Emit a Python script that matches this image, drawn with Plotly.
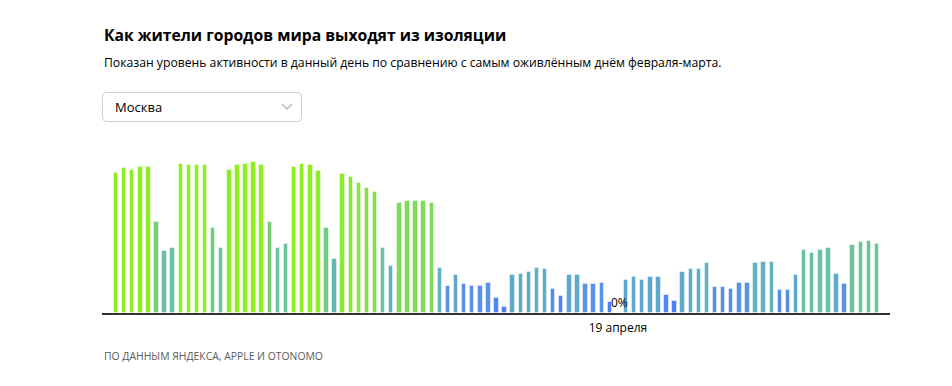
import pandas as pd
import plotly.graph_objects as go

# Activity level (% of the busiest day in Feb-Mar), Moscow, daily from 17 Feb 2020
start_date = "2020-02-17"
activity = [93, 96, 95, 97, 97, 60, 41, 43, 99, 98,
            98, 98, 56, 43, 95, 98, 99, 100, 98, 60,
            43, 46, 97, 99, 98, 94, 56, 36, 92, 90,
            86, 83, 80, 43, 31, 73, 74, 74, 74, 73,
            30, 18, 25, 19, 18, 18, 20, 10, 4, 25,
            26, 27, 30, 29, 16, 11, 25, 25, 19, 19,
            20, 7, 0, 22, 24, 22, 24, 24, 12, 8,
            27, 29, 29, 33, 17, 17, 16, 20, 20, 33,
            34, 34, 15, 15, 25, 42, 40, 42, 43, 26,
            19, 45, 47, 48, 46]
dates = pd.date_range(start_date, periods=len(activity), freq="D")

highlight_date = "2020-04-19"
highlight_label = "19 апреля"
highlight_value_text = "0%"

title = "Как жители городов мира выходят из изоляции"
subtitle = "Показан уровень активности в данный день по сравнению с самым оживлённым днём февраля-марта."
city = "Москва"
source = "ПО ДАННЫМ ЯНДЕКСА, APPLE И OTONOMO"

FONT = "Open Sans"

colorscale = [
    [0.00, "#4a78fa"],
    [0.12, "#5285f2"],
    [0.20, "#5994e4"],
    [0.22, "#5ba6d2"],
    [0.32, "#60b1c2"],
    [0.43, "#6bc29f"],
    [0.60, "#75cc7b"],
    [0.75, "#7fdc55"],
    [0.90, "#89ea30"],
    [1.00, "#8ef01c"],
]

fig = go.Figure(
    go.Bar(
        x=dates,
        y=activity,
        width=0.55 * 86400000,
        marker=dict(
            color=activity,
            colorscale=colorscale,
            cmin=0,
            cmax=100,
            line=dict(color="rgba(255,255,255,0.45)", width=1),
        ),
        hoverinfo="skip",
    )
)

# the page body adds an 8px offset; work in page pixels and convert
OFF = 8
W, H = 952 - OFF, 386 - OFF
L, R, T, B = 102 - OFF, 62, 150 - OFF, 73
PW, PH = W - L - R, H - T - B


def px_x(x):
    return (x - OFF - L) / PW


def px_y(y):
    return (H - B - (y - OFF)) / PH


x0 = dates[0] - pd.Timedelta(days=1.73)
x1 = dates[-1] + pd.Timedelta(days=1.61)

fig.update_xaxes(
    type="date",
    range=[x0, x1],
    showgrid=False,
    zeroline=False,
    showline=True,
    linecolor="#333333",
    linewidth=2,
    ticks="",
    tickvals=[highlight_date],
    ticktext=[highlight_label],
    tickfont=dict(family=FONT, size=12, color="#000000"),
    ticklabelstandoff=3,
    fixedrange=True,
)
fig.update_yaxes(visible=False, range=[0, 108], fixedrange=True)

ann = [
    dict(text="<b>" + title + "</b>", x=px_x(102), y=px_y(35), xanchor="left", yanchor="middle",
         font=dict(family=FONT, size=15.7, color="#000000")),
    dict(text=subtitle, x=px_x(102), y=px_y(62), xanchor="left", yanchor="middle",
         font=dict(family=FONT, size=12.2, color="#000000")),
    dict(text=city, x=px_x(113), y=px_y(107), xanchor="left", yanchor="middle",
         font=dict(family=FONT, size=13, color="#000000")),
    dict(text=source, x=px_x(102), y=px_y(356), xanchor="left", yanchor="middle",
         font=dict(family=FONT, size=10.4, color="#5a5a5a")),
]
for a in ann:
    a.update(xref="paper", yref="paper", showarrow=False)
ann.append(dict(text=highlight_value_text, x=highlight_date, y=0, xref="x", yref="y",
                xanchor="center", yanchor="bottom", yshift=0, xshift=2, showarrow=False,
                font=dict(family=FONT, size=12, color="#000000")))

# dropdown box with rounded corners
bx0, bx1, by0, by1, r = px_x(102.5), px_x(301.5), px_y(121.5), px_y(92.5), 4
rx, ry = r / PW, r / PH
box_path = (
    f"M {bx0+rx},{by1} L {bx1-rx},{by1} Q {bx1},{by1} {bx1},{by1-ry} "
    f"L {bx1},{by0+ry} Q {bx1},{by0} {bx1-rx},{by0} "
    f"L {bx0+rx},{by0} Q {bx0},{by0} {bx0},{by0+ry} "
    f"L {bx0},{by1-ry} Q {bx0},{by1} {bx0+rx},{by1} Z"
)
chev = f"M {px_x(282)},{px_y(104)} L {px_x(287)},{px_y(109)} L {px_x(292)},{px_y(104)}"

fig.update_layout(
    width=W,
    height=H,
    margin=dict(l=L, r=R, t=T, b=B),
    paper_bgcolor="#ffffff",
    plot_bgcolor="#ffffff",
    showlegend=False,
    bargap=0,
    annotations=ann,
    shapes=[
        dict(type="path", path=box_path, xref="paper", yref="paper",
             line=dict(color="#cfcfcf", width=1), fillcolor="rgba(0,0,0,0)", layer="above"),
        dict(type="path", path=chev, xref="paper", yref="paper",
             line=dict(color="#b5b5b5", width=1.3), layer="above"),
    ],
    font=dict(family=FONT),
)

fig.write_html("out.html", config={"displayModeBar": False})
